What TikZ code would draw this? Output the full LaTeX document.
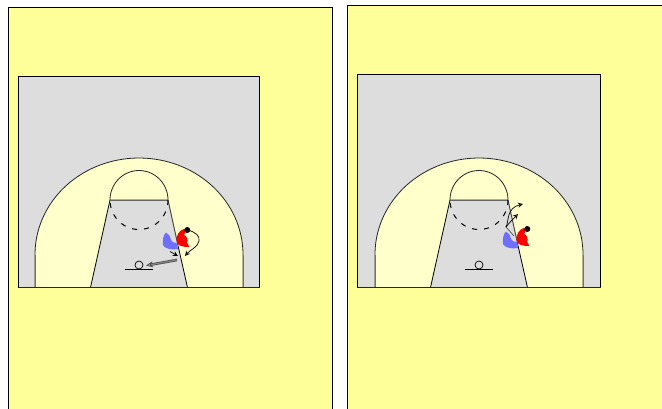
\documentclass[tikz,border=0pt]{standalone}
\usetikzlibrary{arrows.meta}
\definecolor{panelY}{HTML}{FFFF99}
\definecolor{paleY}{HTML}{FFFFCC}
\definecolor{courtG}{HTML}{DDDDDD}
\definecolor{redP}{HTML}{FF0000}
\definecolor{blueP}{HTML}{6F6FFF}
\tikzset{
 panel/.style={fill=panelY,draw=black,line width=1pt},
 court/.style={fill=courtG,draw=black,line width=.8pt},
 arcline/.style={draw=black!85,line width=.8pt},
 cut/.style={draw=black,line width=.7pt,-{Stealth[open,length=5pt,width=5pt]}},
 pass/.style={draw=black!70,line width=.8pt,double=black!45,double distance=1pt,-{Stealth[open,length=7pt,width=6pt]}}
}
% #1 centre x, #2 baseline y, #3 half width of the grey court, #4 court height
\newcommand{\halfcourt}[4]{%
 \begin{scope}[shift={(#1,#2)}]
  \path[court] (-#3,-#4) rectangle (#3,0);
  \path[fill=paleY,arcline] (-104,0) -- (-104,-33) -- plot[domain=180:0,samples=70] ({104*cos(\x)},{-33-96.5*sin(\x)}) -- (104,-33) -- (104,0) -- cycle;
  \draw[black!55,line width=.9pt] (-104,0) -- (-104,-33);
  \draw[black!55,line width=.9pt] (104,0) -- (104,-33);
  \path[fill=paleY,arcline] (-29,-87.5) -- plot[domain=180:0,samples=40] ({29*cos(\x)},{-87.5-29.5*sin(\x)}) -- cycle;
  \path[fill=courtG,draw=none] (-48.5,0) -- (-29,-87.5) -- (29,-87.5) -- (48.5,0) -- cycle;
  \draw[black,line width=.8pt] (-48.5,0) -- (-29,-87.5);
  \draw[black!60,line width=1pt] (-29,-87.5) -- (29,-87.5);
  \draw[black!70,line width=1pt] (29,-87.5) -- (39,-42);
  \draw[black,line width=.8pt] (39,-42) -- (48.5,0);
  \draw[black,line width=1pt,dash pattern=on 5pt off 7pt,dash phase=-3pt] plot[domain=180:360,samples=40] ({29*cos(\x)},{-87.5-29.5*sin(\x)});
  \draw[black,line width=.8pt] (-14,-18.5) -- (14,-18.5);
  \draw[black,fill=courtG,line width=.7pt] (0,-22.5) circle[radius=4];
  \path[draw=black!85,line width=.8pt] (-#3,0) -- (#3,0);
 \end{scope}}
\newcommand{\redplayer}[2]{%
 \begin{scope}[shift={(#1,#2)}]
  \fill[redP] (184,229) .. controls (179,230) and (176,236) .. (176.5,241) .. controls (177,246) and (183,247) .. (189,247) .. controls (189,245) and (188,244) .. (187,243) .. controls (188.5,240) and (187,236) .. (184,235) .. controls (185,233) and (186,232) .. (186,230) -- cycle;
  \fill[black] (187.3,230) circle[radius=3];
 \end{scope}}
\newcommand{\blueplayer}[2]{%
 \begin{scope}[shift={(#1,#2)}]
  \fill[blueP] (166,232.5) .. controls (163,235) and (162.5,241) .. (163,245) .. controls (165,249) and (172,250) .. (178,249) -- (176.5,243) .. controls (174,243) and (172,242) .. (171,240) .. controls (171,237) and (169,234) .. (166,232.5) -- cycle;
 \end{scope}}
\begin{document}
\begin{tikzpicture}[x=1pt,y=-1pt]
 \useasboundingbox (0,0) rectangle (662,408);
 \fill[white] (0,0) rectangle (662,408);
 \begin{scope}
  \clip (0,0) rectangle (662,408);
  \path[panel] (8.5,7.5) rectangle (332.5,420);
  \path[panel] (347.5,5.5) rectangle (680,420);
  \halfcourt{139}{287.5}{120.5}{211}
  \halfcourt{479}{287.5}{121.5}{213}
  \blueplayer{0}{0}
  \redplayer{0}{0}
  \blueplayer{340}{-1}
  \redplayer{340}{-1}
 \end{scope}
 % left panel movements
 \coordinate (lcutS) at (187.3,230);
 \coordinate (lcutE) at (185,256);
 \coordinate (lscS) at (170,251.5);
 \coordinate (lscE) at (178,256);
 \coordinate (lpassS) at (177,260);
 \coordinate (lpassE) at (146,265.5);
 \draw[cut] (lcutS) .. controls (196,232) and (200,236) .. (199,241) .. controls (198,247) and (190,250) .. (lcutE);
 \draw[cut] (lscS) -- (lscE);
 \draw[pass] (lpassS) -- (lpassE);
 % right panel movements
 \coordinate (rS) at (506,227);
 \coordinate (rE1) at (523,204);
 \coordinate (rE2) at (518,214);
 \draw[cut] (rS) .. controls (509,222) and (506,208) .. (rE1);
 \draw[cut] (rS) .. controls (510,222) and (513,219) .. (rE2);
 \draw[black!70,line width=.7pt] (rS) -- (514,236);
\end{tikzpicture}
\end{document}
